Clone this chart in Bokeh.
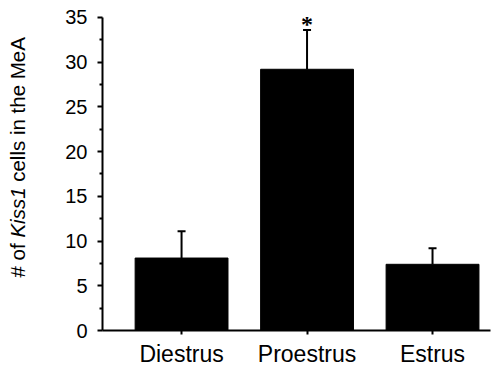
import math
from bokeh.plotting import figure
from bokeh.layouts import row
from bokeh.models import Range1d, FixedTicker, Whisker, TeeHead, ColumnDataSource, LabelSet
from bokeh.core.properties import value
from bokeh.embed import file_html
from bokeh.resources import INLINE

phases = ["Diestrus", "Proestrus", "Estrus"]
means = [8.1, 29.2, 7.4]
sems = [3.0, 4.4, 1.8]
significance = ["", "*", ""]
y_ticks = [0, 5, 10, 15, 20, 25, 30, 35]
y_title_parts = ["# of", "Kiss1", "cells in the MeA"]
y_title_styles = ["normal", "italic", "normal"]

xs = list(range(1, len(phases) + 1))
src = ColumnDataSource(dict(
    x=xs, top=means,
    upper=[m + s for m, s in zip(means, sems)],
    star=significance,
))

FONT = "Liberation Sans"
TOTAL_W, H = 493, 369
LAB_W = 30
W = TOTAL_W - LAB_W
TOP, BOTTOM, LEFT, RIGHT = 4, 37, 72, 3

# ---- narrow panel holding the rotated y-axis title (mixed roman / italic) ----
lab = figure(width=LAB_W, height=H, output_backend="svg", toolbar_location=None, title=None,
             x_range=Range1d(0, LAB_W), y_range=Range1d(0, H),
             x_axis_type=None, y_axis_type=None,
             min_border_left=0, min_border_right=0, min_border_top=0, min_border_bottom=0)
lab.outline_line_color = None
lab.grid.visible = False
fs = 20.5
em_offsets = [0.0, 1.946, 1.946 + 2.445 + 0.278]   # advance of each part (Arial metrics)
anchor_y = 60
title_src = ColumnDataSource(dict(
    x=[17] * 3, y=[anchor_y] * 3,
    dy=[-o * fs for o in em_offsets],
    text=y_title_parts, style=y_title_styles))
lab.text(x="x", y="y", text="text", source=title_src, angle=math.pi / 2, y_offset="dy",
         text_align="left", text_baseline="middle", text_font=value(FONT),
         text_font_size=f"{fs}px", text_font_style="style", text_color="black")

# ---- main chart ----
p = figure(width=W, height=H, output_backend="svg", toolbar_location=None, title=None,
           x_range=Range1d(0.37, 3.462), y_range=Range1d(0, 36.44),
           min_border_left=LEFT, min_border_right=RIGHT, min_border_top=TOP, min_border_bottom=BOTTOM)
p.outline_line_color = None
p.xgrid.visible = False
p.ygrid.visible = False
p.background_fill_color = "white"
p.border_fill_color = "white"

p.vbar(x="x", top="top", bottom=0, width=0.74, source=src,
       fill_color="black", line_color="black", line_width=1)

p.add_layout(Whisker(source=src, base="x", lower="top", upper="upper", dimension="height",
                     line_color="black", line_width=2,
                     upper_head=TeeHead(size=8, line_width=2, line_color="black"),
                     lower_head=None))

p.add_layout(LabelSet(x="x", y="upper", text="star", source=src, text_align="center",
                      text_baseline="alphabetic", y_offset=-2, text_font_size="24px",
                      text_font_style="bold", text_font=FONT, text_color="black"))

ya = p.yaxis[0]
ya.bounds = (0, 35)
ya.ticker = FixedTicker(ticks=y_ticks, minor_ticks=[v + 2.5 for v in y_ticks[:-1]])
ya.axis_line_width = 2
ya.major_tick_line_width = 2
ya.minor_tick_line_width = 2
ya.major_tick_out = 5
ya.major_tick_in = 0
ya.minor_tick_out = 3
ya.minor_tick_in = 0
ya.major_label_text_font = FONT
ya.major_label_text_font_size = "20px"
ya.major_label_text_color = "black"
ya.major_label_standoff = 10

xa = p.xaxis[0]
xa.ticker = FixedTicker(ticks=xs, minor_ticks=[])
xa.major_label_overrides = {x: n for x, n in zip(xs, phases)}
xa.axis_line_width = 2
xa.major_tick_line_width = 2
xa.major_tick_out = 4
xa.major_tick_in = 0
xa.minor_tick_line_color = None
xa.major_label_text_font = FONT
xa.major_label_text_font_size = "23px"
xa.major_label_text_color = "black"
xa.major_label_standoff = 6

layout = row(lab, p, spacing=0)
open("out.html", "w").write(file_html(layout, INLINE))
